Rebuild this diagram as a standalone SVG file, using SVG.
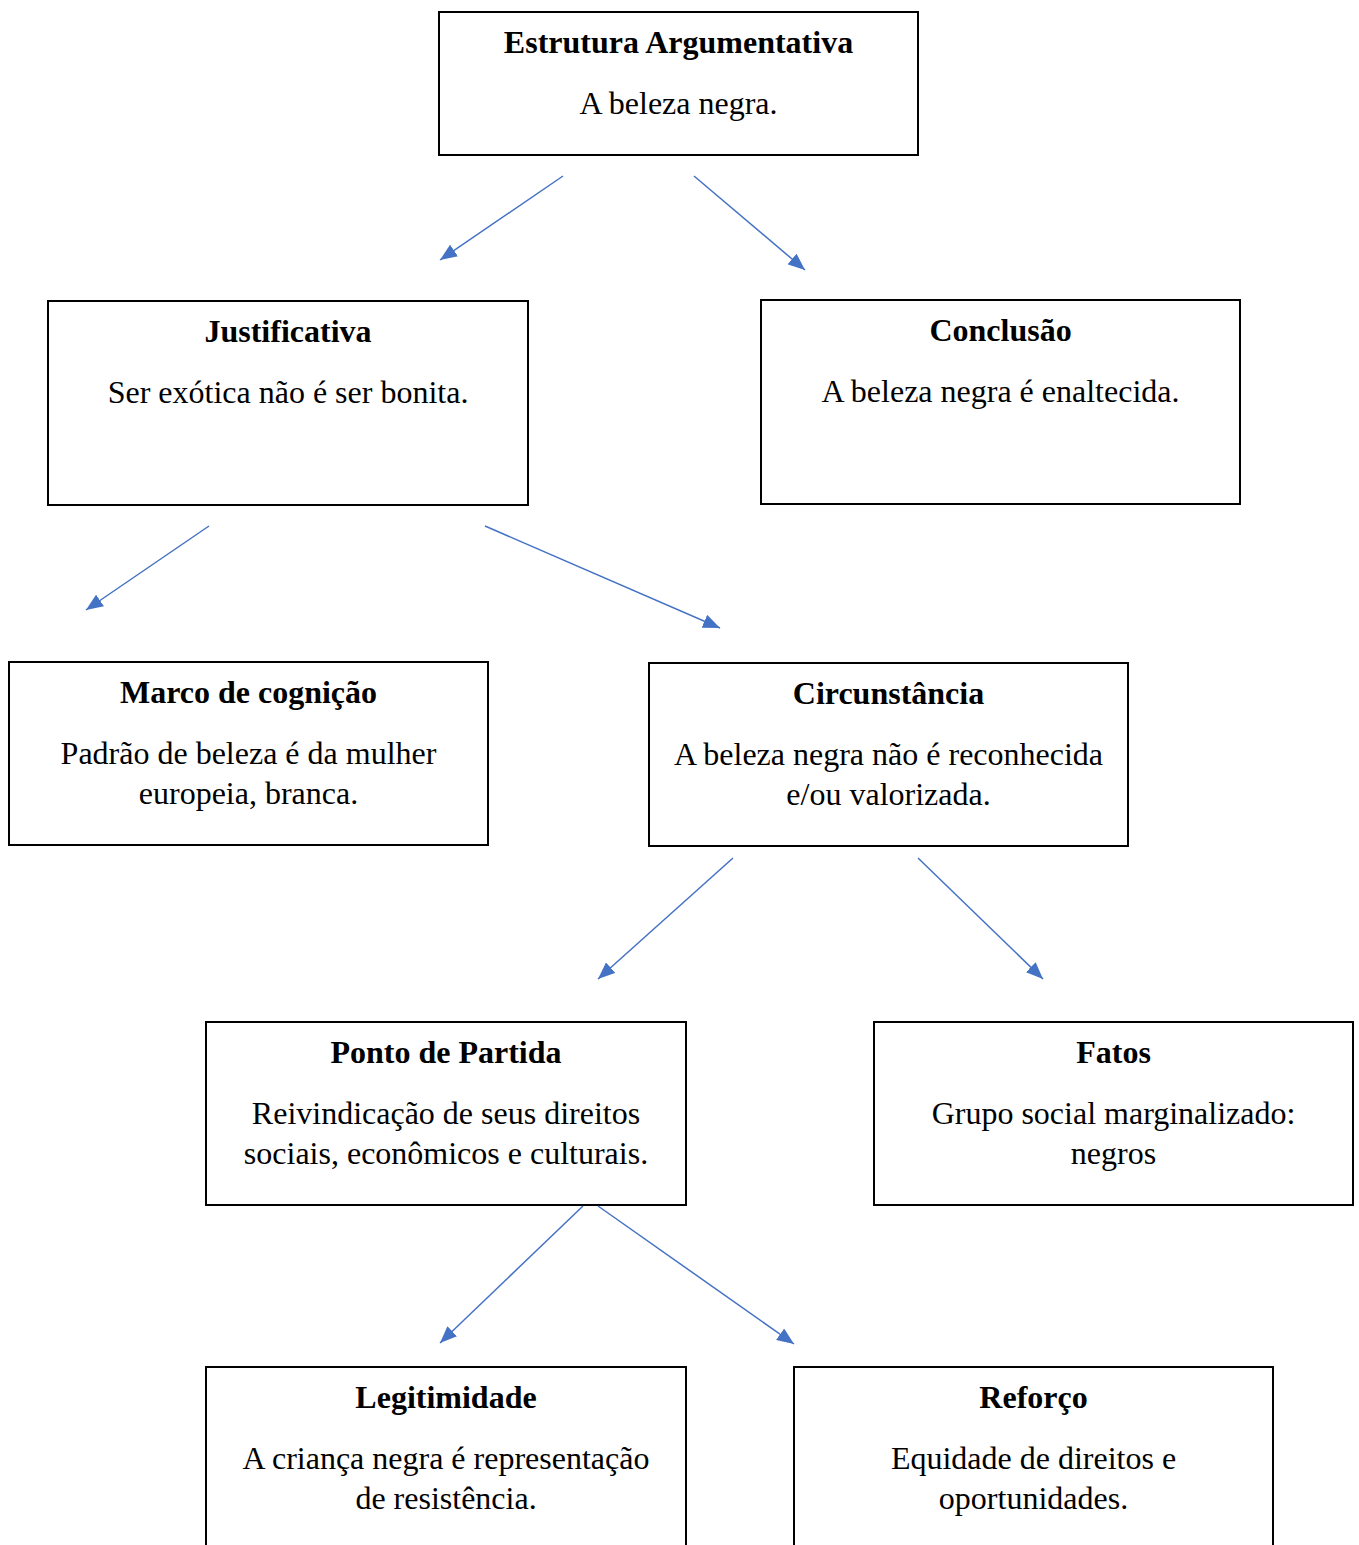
<svg xmlns="http://www.w3.org/2000/svg" width="1359" height="1545" viewBox="0 0 1359 1545">
  <style>
    .box { fill: #ffffff; stroke: #000000; stroke-width: 2; }
    .title { font-family: "Liberation Serif", "Times New Roman", serif; font-size: 32px; font-weight: bold; text-anchor: middle; fill: #000; }
    .body { font-family: "Liberation Serif", "Times New Roman", serif; font-size: 32px; text-anchor: middle; fill: #000; }
    .link { stroke: #4472C4; stroke-width: 1.5; fill: none; marker-end: url(#arrow); }
  </style>
  <defs>
    <marker id="arrow" markerUnits="userSpaceOnUse" markerWidth="18" markerHeight="14" refX="17" refY="7" orient="auto">
      <path d="M0,0 L17,7 L0,14 z" fill="#4472C4"/>
    </marker>
  </defs>
  <rect width="1359" height="1545" fill="#ffffff"/>

  <g id="estrutura">
    <rect class="box" x="439" y="12" width="479" height="143"/>
    <text class="title" x="678.5" y="53">Estrutura Argumentativa</text>
    <text class="body" x="678.5" y="114">A beleza negra.</text>
  </g>

  <g id="justificativa">
    <rect class="box" x="48" y="301" width="480" height="204"/>
    <text class="title" x="288" y="342">Justificativa</text>
    <text class="body" x="288" y="403">Ser exótica não é ser bonita.</text>
  </g>

  <g id="conclusao">
    <rect class="box" x="761" y="300" width="479" height="204"/>
    <text class="title" x="1000.5" y="341">Conclusão</text>
    <text class="body" x="1000.5" y="402">A beleza negra é enaltecida.</text>
  </g>

  <g id="marco">
    <rect class="box" x="9" y="662" width="479" height="183"/>
    <text class="title" x="248.5" y="703">Marco de cognição</text>
    <text class="body" x="248.5" y="764">Padrão de beleza é da mulher</text>
    <text class="body" x="248.5" y="804">europeia, branca.</text>
  </g>

  <g id="circunstancia">
    <rect class="box" x="649" y="663" width="479" height="183"/>
    <text class="title" x="888.5" y="704">Circunstância</text>
    <text class="body" x="888.5" y="765">A beleza negra não é reconhecida</text>
    <text class="body" x="888.5" y="805">e/ou valorizada.</text>
  </g>

  <g id="ponto-de-partida">
    <rect class="box" x="206" y="1022" width="480" height="183"/>
    <text class="title" x="446" y="1063">Ponto de Partida</text>
    <text class="body" x="446" y="1124">Reivindicação de seus direitos</text>
    <text class="body" x="446" y="1164">sociais, econômicos e culturais.</text>
  </g>

  <g id="fatos">
    <rect class="box" x="874" y="1022" width="479" height="183"/>
    <text class="title" x="1113.5" y="1063">Fatos</text>
    <text class="body" x="1113.5" y="1124">Grupo social marginalizado:</text>
    <text class="body" x="1113.5" y="1164">negros</text>
  </g>

  <g id="legitimidade">
    <rect class="box" x="206" y="1367" width="480" height="200"/>
    <text class="title" x="446" y="1408">Legitimidade</text>
    <text class="body" x="446" y="1469">A criança negra é representação</text>
    <text class="body" x="446" y="1509">de resistência.</text>
  </g>

  <g id="reforco">
    <rect class="box" x="794" y="1367" width="479" height="200"/>
    <text class="title" x="1033.5" y="1408">Reforço</text>
    <text class="body" x="1033.5" y="1469">Equidade de direitos e</text>
    <text class="body" x="1033.5" y="1509">oportunidades.</text>
  </g>

  <g id="connectors">
    <line class="link" x1="563" y1="176" x2="440" y2="260"/>
    <line class="link" x1="694" y1="176" x2="805" y2="270"/>
    <line class="link" x1="209" y1="526" x2="86" y2="610"/>
    <line class="link" x1="485" y1="526" x2="720" y2="628"/>
    <line class="link" x1="733" y1="858" x2="598" y2="979"/>
    <line class="link" x1="918" y1="858" x2="1043" y2="979"/>
    <line class="link" x1="583" y1="1206" x2="440" y2="1343"/>
    <line class="link" x1="598" y1="1206" x2="794" y2="1344"/>
  </g>
</svg>
